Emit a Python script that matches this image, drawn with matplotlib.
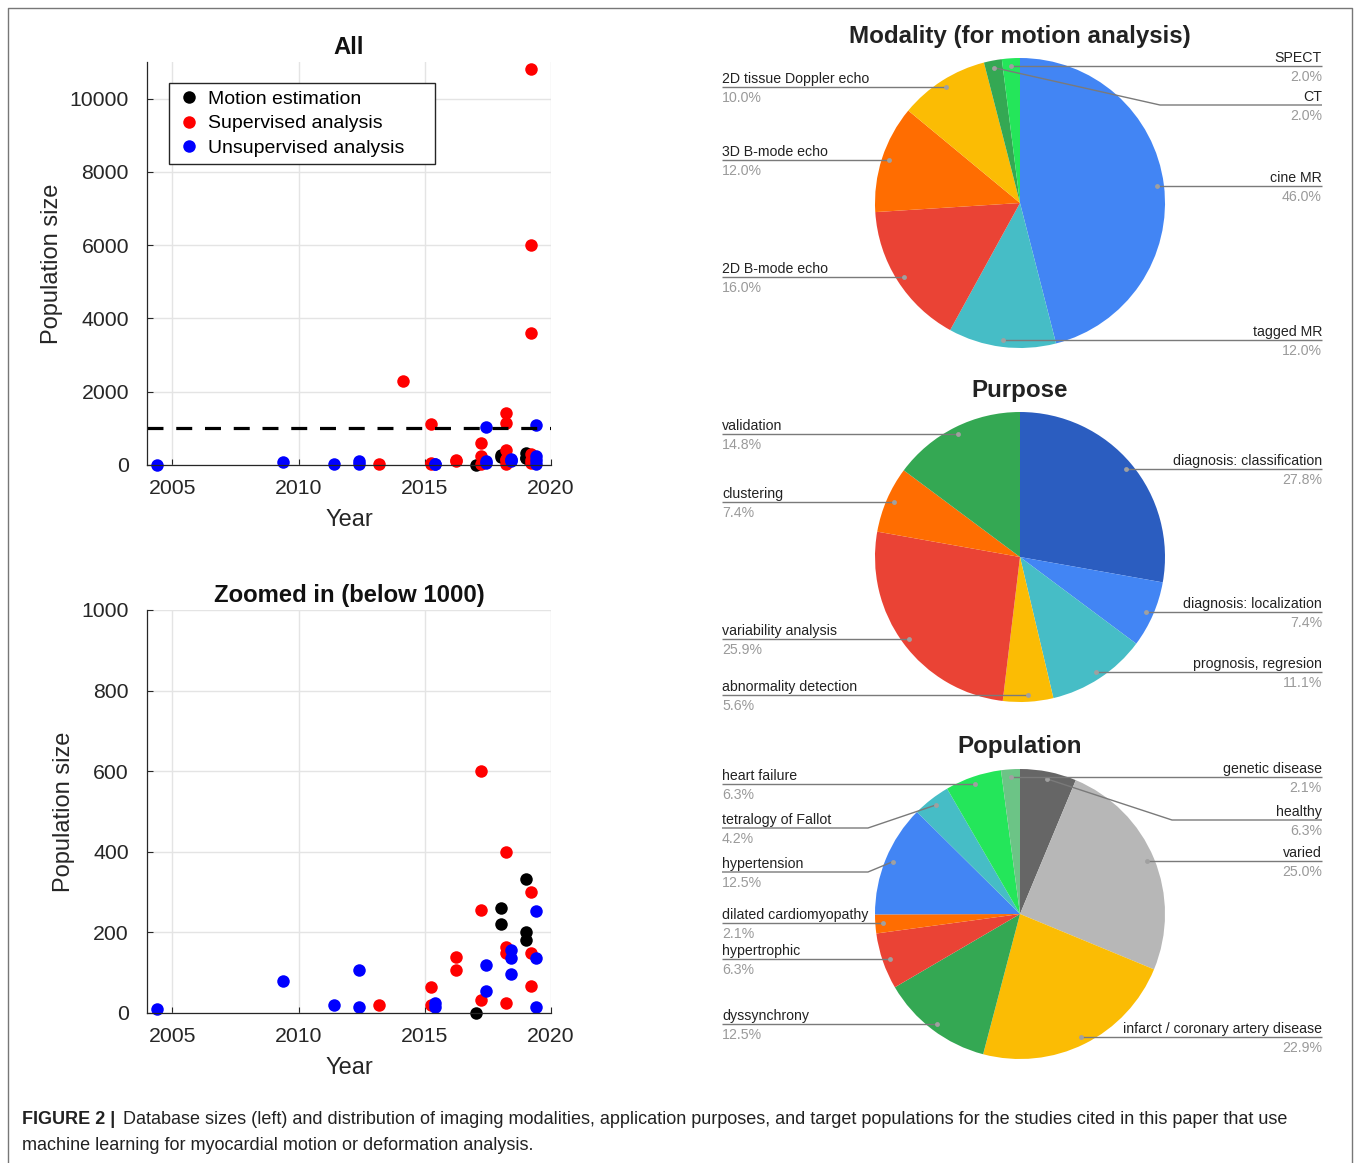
import matplotlib.pyplot as plt
import numpy as np

W, H = 1358, 1163
plt.rcParams['font.family'] = ['Liberation Sans', 'DejaVu Sans']

# -- Dimensione dei database (anno, numero di soggetti)
motion_year = [2017.01, 2018.0, 2018.0, 2019.0, 2019.0, 2019.0]
motion_size = [1, 260, 220, 332, 200, 181]

sup_year = [2013.18, 2014.15, 2015.23, 2015.23, 2015.23, 2016.22, 2016.22,
            2017.21, 2017.21, 2017.21, 2018.2, 2018.2, 2018.2, 2018.2, 2018.2, 2018.2,
            2019.19, 2019.19, 2019.19, 2019.19, 2019.19, 2019.19]
sup_size = [20, 2290, 1117, 65, 20, 138, 107,
            600, 256, 32, 1417, 1144, 400, 165, 149, 24,
            10800, 6000, 3600, 300, 150, 67]

unsup_year = [2004.4, 2009.4, 2011.39, 2012.38, 2012.38, 2015.42, 2015.42,
              2017.41, 2017.41, 2017.41, 2018.4, 2018.4, 2018.4,
              2019.39, 2019.39, 2019.39, 2019.39]
unsup_size = [10, 79, 20, 107, 14, 26, 14,
              1035, 119, 55, 156, 136, 98,
              1090, 253, 137, 14]

threshold = 1000

# -- Torte (percentuali, in senso orario da ore 12)
modality_labels = ['cine MR', 'tagged MR', '2D B-mode echo', '3D B-mode echo',
                   '2D tissue Doppler echo', 'CT', 'SPECT']
modality_pct = [46.0, 12.0, 16.0, 12.0, 10.0, 2.0, 2.0]

purpose_labels = ['diagnosis: classification', 'diagnosis: localization', 'prognosis, regresion',
                  'abnormality detection', 'variability analysis', 'clustering', 'validation']
purpose_pct = [27.8, 7.4, 11.1, 5.6, 25.9, 7.4, 14.8]

population_labels = ['healthy', 'varied', 'infarct / coronary artery disease', 'dyssynchrony',
                     'hypertrophic', 'dilated cardiomyopathy', 'hypertension',
                     'tetralogy of Fallot', 'heart failure', 'genetic disease']
population_pct = [6.3, 25.0, 22.9, 12.5, 6.3, 2.1, 12.5, 4.2, 6.3, 2.1]

BLUE, RED, YELLOW, GREEN, ORANGE, TEAL = '#4285F4', '#EA4335', '#FBBC04', '#34A853', '#FF6D01', '#46BDC6'
LIME = '#24E65A'
modality_colors = [BLUE, TEAL, RED, ORANGE, YELLOW, GREEN, LIME]
purpose_colors = ['#2B5DC0', BLUE, TEAL, YELLOW, RED, ORANGE, GREEN]
population_colors = ['#666666', '#B7B7B7', YELLOW, GREEN, RED, ORANGE, BLUE, TEAL, LIME, '#6CC486']

TXT = '#262626'


def style_scatter(ax, ymax, yticks, title):
    ax.set_xlim(2004, 2020)
    ax.set_ylim(0, ymax)
    ax.set_xticks([2005, 2010, 2015, 2020])
    ax.set_yticks(yticks)
    ax.grid(color='#E4E4E4', linewidth=1)
    ax.set_axisbelow(True)
    for s in ['top', 'right']:
        ax.spines[s].set_visible(False)
    for s in ['left', 'bottom']:
        ax.spines[s].set_color(TXT)
        ax.spines[s].set_linewidth(0.9)
    ax.tick_params(axis='both', direction='in', length=4, width=0.8, labelsize=15.3,
                   colors=TXT)
    ax.tick_params(axis='y', pad=13)
    ax.tick_params(axis='x', pad=10)
    ax.set_xlabel('Year', fontsize=17, color=TXT, labelpad=8)
    ax.set_ylabel('Population size', fontsize=17, color=TXT, labelpad=5)
    ax.set_title(title, fontsize=17.2, fontweight='bold', color='#111111', pad=6)


def scatter_groups(ax, limit=None):
    groups = [(motion_year, motion_size, 'k', 'Motion estimation'),
              (sup_year, sup_size, 'r', 'Supervised analysis'),
              (unsup_year, unsup_size, 'b', 'Unsupervised analysis')]
    for yr, sz, c, lab in groups:
        yr, sz = np.array(yr), np.array(sz)
        if limit is not None:
            keep = sz < limit
            yr, sz = yr[keep], sz[keep]
        ax.plot(yr, sz, 'o', color=c, markersize=9, markeredgewidth=0,
                linestyle='none', label=lab, clip_on=False)


fig = plt.figure(figsize=(W / 100, H / 100), dpi=100)


def px_axes(left, right, top, bottom):
    return fig.add_axes([left / W, 1 - bottom / H, (right - left) / W, (bottom - top) / H])


# -- Scatter: tutti i dati
ax1 = px_axes(147, 551, 62, 465)
scatter_groups(ax1)
ax1.axhline(threshold, color='k', linewidth=2.3, dashes=(5, 4))
style_scatter(ax1, 11000, np.arange(0, 10001, 2000), 'All')
leg = ax1.legend(loc='upper left', bbox_to_anchor=(0.055, 0.757, 0.658, 0.19), mode='expand',
                 borderaxespad=0, fontsize=14, fancybox=False, edgecolor=TXT, framealpha=1,
                 handlelength=1.3, handletextpad=0.35, labelspacing=0.36, borderpad=0.35)
leg.get_frame().set_linewidth(1)

# -- Scatter: zoom sotto 1000
ax2 = px_axes(147, 551, 610, 1013)
scatter_groups(ax2, limit=threshold)
style_scatter(ax2, 1000, np.arange(0, 1001, 200), 'Zoomed in (below 1000)')

# -- Overlay in coordinate pixel per torte, etichette, didascalia
ov = fig.add_axes([0, 0, 1, 1])
R = 145
LEFT_X, RIGHT_X = 722, 1322


def draw_pie(title, labels, pct, colors, cy, right_side, elbows):
    cx = 1020
    wedges, _ = ov.pie(pct, colors=colors, startangle=90, counterclock=False,
                       center=(cx, H - cy), radius=R, frame=True,
                       wedgeprops=dict(linewidth=0))
    ov.text(cx, H - (cy - R - 22), title, ha='center', va='center', fontsize=17.4,
            fontweight='bold', color='#222222')
    total = sum(pct)
    for w, lab, p in zip(wedges, labels, pct):
        mid = np.deg2rad((w.theta1 + w.theta2) / 2)
        dx, dy = cx + 0.95 * R * np.cos(mid), cy - 0.95 * R * np.sin(mid)
        on_right = lab in right_side
        edge = RIGHT_X if on_right else LEFT_X
        if lab in elbows:
            ly, ex = elbows[lab]
            xs, ys = [dx, ex, edge], [dy, ly, ly]
        else:
            ly = dy
            xs, ys = [dx, edge], [dy, dy]
        ov.plot(xs, [H - v for v in ys], color='#7A7A7A', linewidth=1.0, solid_capstyle='butt')
        ov.plot(dx, H - dy, 'o', color='#A0A0A0', markersize=3.5, markeredgewidth=0)
        ha = 'right' if on_right else 'left'
        ov.text(edge, H - (ly - 4), lab, ha=ha, va='baseline', fontsize=10.2, color='#222222')
        ov.text(edge, H - (ly + 4), f'{100 * p / total:.1f}%', ha=ha, va='top', fontsize=10.2,
                color='#9A9A9A')


draw_pie('Modality (for motion analysis)', modality_labels, modality_pct, modality_colors, 203,
         ['cine MR', 'tagged MR', 'CT', 'SPECT'], {'CT': (105, 1160)})
draw_pie('Purpose', purpose_labels, purpose_pct, purpose_colors, 557,
         ['diagnosis: classification', 'diagnosis: localization', 'prognosis, regresion'], {})
draw_pie('Population', population_labels, population_pct, population_colors, 914,
         ['healthy', 'varied', 'infarct / coronary artery disease', 'genetic disease'],
         {'healthy': (820, 1172), 'tetralogy of Fallot': (828, 868),
          'hypertension': (872, 868)})

# -- Cornice e didascalia
ov.plot([7.5, 7.5, 1351.5, 1351.5], [0, H - 8, H - 8, 0], color='#777777', linewidth=1)
ov.text(22, H - 1120, 'FIGURE 2 |', fontsize=13, fontweight='bold', color='#222222', va='center')
ov.text(123, H - 1120, 'Database sizes (left) and distribution of imaging modalities, application '
        'purposes, and target populations for the studies cited in this paper that use',
        fontsize=13, color='#222222', va='center')
ov.text(22, H - 1146, 'machine learning for myocardial motion or deformation analysis.',
        fontsize=13, color='#222222', va='center')

ov.set_xlim(0, W)
ov.set_ylim(0, H)
ov.set_aspect('auto')
ov.axis('off')
ov.patch.set_visible(False)

fig.savefig('out.png', dpi=100)
